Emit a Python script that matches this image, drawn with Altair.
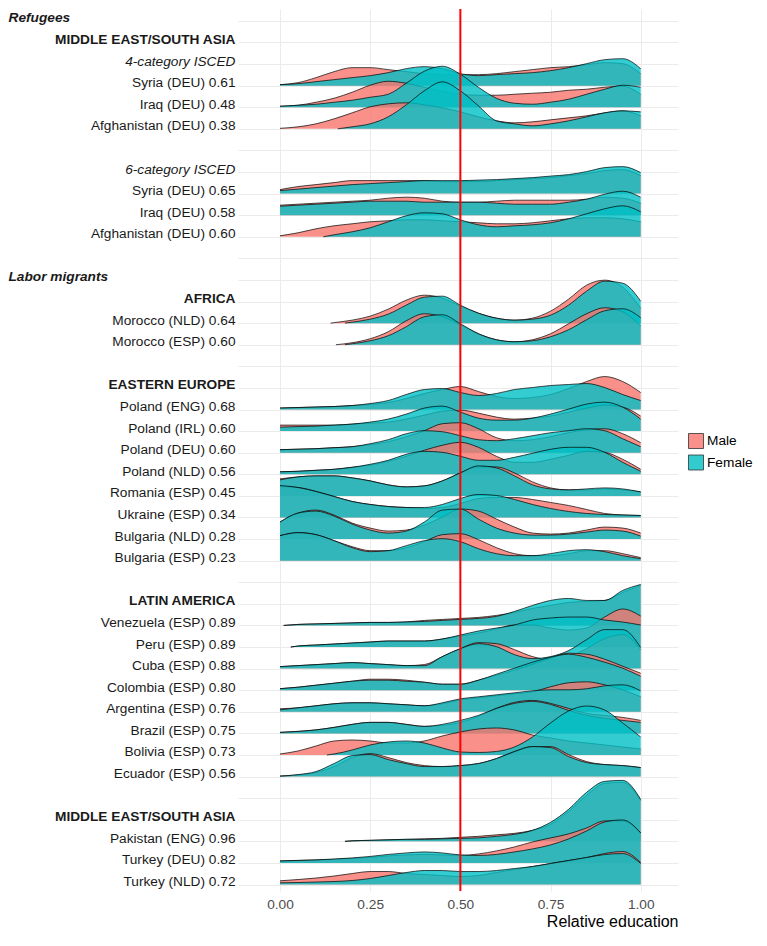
import altair as alt
import pandas as pd

# ---------------- row labels (top to bottom) ----------------
ROW_LABELS = [
    "Refugees", "MIDDLE EAST/SOUTH ASIA", "4-category ISCED",
    "Syria (DEU) 0.61", "Iraq (DEU) 0.48", "Afghanistan (DEU) 0.38", "",
    "6-category ISCED", "Syria (DEU) 0.65", "Iraq (DEU) 0.58", "Afghanistan (DEU) 0.60", "",
    "Labor migrants", "AFRICA", "Morocco (NLD) 0.64", "Morocco (ESP) 0.60", "",
    "EASTERN EUROPE", "Poland (ENG) 0.68", "Poland (IRL) 0.60", "Poland (DEU) 0.60",
    "Poland (NLD) 0.56", "Romania (ESP) 0.45", "Ukraine (ESP) 0.34", "Bulgaria (NLD) 0.28",
    "Bulgaria (ESP) 0.23", "",
    "LATIN AMERICA", "Venezuela (ESP) 0.89", "Peru (ESP) 0.89", "Cuba (ESP) 0.88",
    "Colombia (ESP) 0.80", "Argentina (ESP) 0.76", "Brazil (ESP) 0.75", "Bolivia (ESP) 0.73",
    "Ecuador (ESP) 0.56", "",
    "MIDDLE EAST/SOUTH ASIA", "Pakistan (ENG) 0.96", "Turkey (DEU) 0.82", "Turkey (NLD) 0.72",
]
BOLD_ROWS = [0, 1, 12, 13, 17, 27, 37]
ITALIC_ROWS = [0, 2, 7, 12]
GROUP_ROWS = [0, 12]

# relative education grid (0, 0.05, ..., 1.0)
X_GRID = [round(i * 0.05, 2) for i in range(21)]
X_TICKS = [0, 0.25, 0.5, 0.75, 1.0]
REF_LINE = 0.5
DENS_PER_ROW = 21.6  # density units that make one ridge row

# ---------------- densities ----------------
syria4_m = [1, 3, 8, 14, 18, 18, 16, 14, 12, 11, 11, 11, 12, 14, 16, 18, 19, 21, 23, 22, 12]
syria4_f = [1, 2, 4, 6, 8, 10, 13, 17, 19, 17, 12, 10, 11, 12, 13, 15, 18, 22, 26, 27, 17]
iraq4_m = [1, 2, 5, 9, 15, 22, 26, 24, 20, 16, 13, 12, 12, 13, 14, 15, 17, 18, 20, 21, 13]
iraq4_f = [1, 2, 3, 5, 7, 10, 13, 24, 36, 41, 33, 20, 9, 4, 3, 5, 8, 13, 18, 22, 20]
afgh4_m = [0.5, 2, 5, 10, 16, 22, 25, 26, 24, 21, 17, 12, 8, 6, 7, 9, 11, 13, 16, 18, 13]
afgh4_f = [None, None, None, None, 2, 5, 12, 24, 38, 47, 38, 23, 8, 5, 3, 5, 8, 12, 16, 18, 17]
syria6_m = [4, 7, 9, 11, 13, 13, 13, 13, 13, 12, 12, 12, 13, 14, 15, 16, 18, 20, 23, 24, 18]
syria6_f = [3, 4.5, 6, 7.5, 9, 10, 11, 12, 13, 13, 13, 13.5, 14, 15, 16, 17.5, 19, 22, 26, 27, 21]
iraq6_m = [10, 11, 12, 13, 14, 15, 17, 18, 17, 14, 13, 13, 14, 15, 15, 15, 15, 16, 18, 17, 12]
iraq6_f = [9, 10, 11, 12, 13, 14, 14, 14, 13, 13, 13, 13, 12, 11, 11, 11, 13, 16, 21, 24, 18]
afgh6_m = [1, 4, 8, 11, 13, 15, 16, 17, 17, 16, 15, 14, 13, 13, 14, 16, 18, 19, 19, 18, 15]
afgh6_f = [None, None, None, 2, 5, 9, 15, 21, 24, 23, 17, 12, 10, 11, 12, 14, 18, 23, 28, 31, 25]
morocco_nld_m = [None, None, None, 0.5, 3, 7, 14, 23, 28, 25, 17, 10, 5, 3, 5, 12, 24, 38, 43, 36, 15]
morocco_nld_f = [None, None, None, None, 1, 4, 9, 18, 26, 27, 18, 10, 5, 3, 4, 8, 18, 32, 42, 40, 22]
morocco_esp_m = [None, None, None, None, 2, 6, 13, 24, 31, 28, 20, 11, 5, 3, 5, 11, 21, 31, 37, 33, 19]
morocco_esp_f = [None, None, None, None, 1, 4, 9, 18, 28, 30, 21, 11, 5, 3, 4, 8, 15, 25, 34, 36, 27]
poland_eng_m = [1.5, 2, 2.5, 3, 4, 5, 7, 11, 16, 20, 23, 18, 13, 11, 12, 15, 21, 28, 33, 28, 17]
poland_eng_f = [1.5, 2, 2.5, 3, 4, 6, 9, 15, 20, 21, 17, 14, 16, 20, 22, 24, 25, 26, 22, 15, 9]
poland_irl_m = [6, 6, 6, 6, 7, 8, 9, 12, 16, 20, 21, 18, 14, 12, 13, 15, 19, 23, 26, 24, 15]
poland_irl_f = [4, 4.5, 5, 6, 7, 9, 12, 17, 23, 25, 19, 13, 11, 11, 13, 17, 22, 27, 29, 24, 12]
poland_deu_m = [3, 3.5, 4, 5, 6, 8, 11, 16, 22, 29, 30, 24, 15, 12, 13, 16, 20, 23, 24, 19, 10]
poland_deu_f = [3, 3.5, 4, 5, 6, 9, 13, 19, 22, 21, 17, 13, 12, 14, 17, 20, 22, 24, 22, 14, 6]
poland_nld_m = [2.5, 3, 4, 5, 7, 9, 13, 18, 24, 29, 32, 27, 18, 12, 12, 15, 19, 23, 22, 15, 5]
poland_nld_f = [2.5, 3, 4, 5, 7, 10, 14, 20, 23, 22, 18, 14, 14, 17, 21, 25, 27, 27, 22, 12, 3]
romania_m = [17, 19, 20, 20, 18, 15, 11, 9, 10, 15, 23, 29, 29, 23, 14, 8, 6, 6, 7, 6, 4]
romania_f = [16, 19, 20, 20, 18, 15, 11, 9, 10, 15, 23, 30, 28, 20, 11, 7, 6, 7, 8, 7, 4]
ukraine_m = [31, 30, 26, 21, 16, 13, 11, 10, 9, 10, 14, 19, 20, 20, 18, 15, 12, 8, 4, 2.5, 2]
ukraine_f = [32, 30, 26, 21, 16, 13, 11, 10, 10, 13, 19, 23, 22, 18, 13, 9, 6, 4, 3, 2.5, 2]
bulgaria_nld_m = [17, 26, 29, 24, 16, 11, 8, 9, 14, 22, 30, 28, 20, 12, 6, 5, 6, 9, 12, 11, 6]
bulgaria_nld_f = [17, 26, 28, 23, 15, 9, 6, 8, 17, 29, 30, 20, 11, 6, 4, 4, 5, 7, 9, 8, 3]
bulgaria_esp_m = [25, 28, 26, 20, 14, 10, 10, 13, 19, 26, 27, 21, 13, 7, 5, 5, 7, 10, 10, 7, 3]
bulgaria_esp_f = [25, 28, 26, 20, 13, 9, 10, 15, 20, 22, 19, 12, 7, 5, 5, 7, 10, 11, 9, 5, 2]
venezuela_m = [None, 1, 1.5, 2, 2.5, 3, 3, 3.5, 5, 6, 7, 8, 10, 13, 17, 20, 23, 24, 25, 33, 40]
venezuela_f = [None, 1, 1.5, 2, 2.5, 3, 3, 3.5, 4, 5, 6, 7, 9, 14, 20, 25, 27, 25, 25, 35, 41]
peru_m = [None, 1, 2, 3, 4, 5, 6, 6, 6, 8, 11, 14, 18, 22, 22, 19, 17, 19, 30, 38, 31]
peru_f = [None, 1, 2, 3, 4, 5, 6, 6, 6, 8, 12, 16, 19, 22, 27, 29, 30, 30, 27, 25, 22]
cuba_m = [2, 3, 4, 5, 6, 5, 4, 3, 4, 12, 20, 26, 25, 19, 12, 9, 12, 20, 30, 34, 19]
cuba_f = [2, 3, 4, 5, 6, 5, 4, 3, 3, 12, 20, 25, 22, 14, 10, 12, 18, 29, 39, 39, 21]
colombia_m = [1.5, 3, 5, 7, 9, 11, 11, 10, 8, 6, 6, 10, 15, 20, 26, 32, 37, 36, 31, 24, 17]
colombia_f = [1.5, 3, 5, 7, 9, 10, 10, 9, 8, 6, 6, 10, 16, 22, 28, 33, 36, 33, 28, 22, 14]
argentina_m = [3, 4, 6, 8, 9, 9, 8, 7, 6, 8, 12, 14, 16, 18, 20, 25, 29, 30, 27, 22, 15]
argentina_f = [2, 4, 6, 8, 9, 9, 8, 7, 6, 9, 13, 15, 17, 19, 21, 22, 22, 23, 26, 27, 21]
brazil_m = [1, 2, 3.5, 6, 9, 11, 11, 9, 7, 8, 11, 17, 25, 31, 33, 30, 25, 20, 18, 16, 13]
brazil_f = [1, 2, 3.5, 6, 9, 11, 11, 9, 7, 9, 13, 18, 25, 30, 32, 29, 23, 18, 15, 13, 11]
bolivia_m = [1, 4, 9, 14, 15, 14, 12, 12, 14, 19, 23, 26, 27, 25, 20, 17, 14, 12, 10, 8, 6]
bolivia_f = [None, None, None, 1, 5, 10, 13, 14, 12, 7, 3, 2.5, 3.5, 8, 18, 32, 44, 49, 45, 32, 18]
ecuador_m = [0.5, 1.5, 4, 10, 19, 23, 19, 14, 11, 10, 11, 13, 18, 25, 30, 30, 22, 15, 12, 11, 9]
ecuador_f = [0.5, 2, 5, 13, 21, 22, 17, 13, 10, 10, 11, 13, 18, 25, 30, 29, 20, 14, 12, 11, 9]
pakistan_m = [None, None, None, None, 0.5, 1, 1.5, 2, 2.5, 3, 4, 5, 6.5, 8, 11, 17, 30, 46, 58, 59, 41]
pakistan_f = [None, None, None, None, 0.5, 1, 1.5, 2, 2, 2.5, 3, 3.5, 5, 7, 11, 19, 32, 49, 60, 61, 42]
turkey_deu_m = [2, 2.5, 3, 3.5, 4.5, 5.5, 7, 8, 8.5, 8, 7.5, 9, 12, 16, 21, 25, 29, 35, 42, 42, 30]
turkey_deu_f = [2, 2.5, 3, 4, 5, 6.5, 8.5, 10, 11, 10, 8, 7.5, 8.5, 11, 14, 18, 24, 32, 41, 43, 30]
turkey_nld_m = [3.7, 5, 6.5, 8.5, 11, 13, 13, 11, 10, 9, 8, 9, 12, 15, 18, 21, 24, 27, 31, 33, 22]
turkey_nld_f = [1.7, 2, 2.5, 3, 4, 6, 9, 12, 14, 14, 13, 13, 14, 16, 18, 21, 24, 27, 30, 31, 21]

# (row, male, female, male start, female start)
SERIES = [
    (3, syria4_m, syria4_f, None, None),
    (4, iraq4_m, iraq4_f, None, None),
    (5, afgh4_m, afgh4_f, None, 0.16),
    (8, syria6_m, syria6_f, None, None),
    (9, iraq6_m, iraq6_f, None, None),
    (10, afgh6_m, afgh6_f, None, 0.12),
    (14, morocco_nld_m, morocco_nld_f, 0.14, 0.18),
    (15, morocco_esp_m, morocco_esp_f, 0.155, 0.18),
    (18, poland_eng_m, poland_eng_f, None, None),
    (19, poland_irl_m, poland_irl_f, None, None),
    (20, poland_deu_m, poland_deu_f, None, None),
    (21, poland_nld_m, poland_nld_f, None, None),
    (22, romania_m, romania_f, None, None),
    (23, ukraine_m, ukraine_f, None, None),
    (24, bulgaria_nld_m, bulgaria_nld_f, None, None),
    (25, bulgaria_esp_m, bulgaria_esp_f, None, None),
    (28, venezuela_m, venezuela_f, 0.01, 0.01),
    (29, peru_m, peru_f, 0.03, 0.03),
    (30, cuba_m, cuba_f, None, None),
    (31, colombia_m, colombia_f, None, None),
    (32, argentina_m, argentina_f, None, None),
    (33, brazil_m, brazil_f, None, None),
    (34, bolivia_m, bolivia_f, None, 0.13),
    (35, ecuador_m, ecuador_f, None, None),
    (38, pakistan_m, pakistan_f, 0.18, 0.18),
    (39, turkey_deu_m, turkey_deu_f, None, None),
    (40, turkey_nld_m, turkey_nld_f, None, None),
]

MALE_COLOR = "#F8766D"
FEMALE_COLOR = "#00BFC4"
FONT = "Liberation Sans"


def in_rows(rows):
    return "indexof([%s], datum.value) >= 0" % ",".join(str(r) for r in rows)


label_expr = "[" + ",".join("'" + s + "'" for s in ROW_LABELS) + "][datum.value]"

y_axis = alt.Axis(
    values=list(range(len(ROW_LABELS))),
    labelExpr=label_expr,
    grid=True, gridColor="#EBEBEB", gridWidth=1,
    domain=False, ticks=False, tickSize=0,
    labelFontSize=13.7, labelColor="#1A1A1A", labelLimit=0,
    labelFontWeight={"condition": {"test": in_rows(BOLD_ROWS), "value": "bold"}, "value": "normal"},
    labelFontStyle={"condition": {"test": in_rows(ITALIC_ROWS), "value": "italic"}, "value": "normal"},
    labelAlign={"condition": {"test": in_rows(GROUP_ROWS), "value": "left"}, "value": "right"},
    labelPadding={"condition": {"test": in_rows(GROUP_ROWS), "value": 230}, "value": 3},
    labelBaseline="alphabetic", labelOffset=1,
    labelOverlap=False, labelBound=False, labelFlush=False,
    title=None,
)
x_axis = alt.Axis(
    values=X_TICKS, format=".2f",
    grid=True, gridColor="#EBEBEB", gridWidth=1,
    domain=False, ticks=False, tickSize=0,
    labelFontSize=13.7, labelColor="#4D4D4D", labelPadding=6, labelFlush=False,
    title="Relative education", titleAnchor="end", titleFontSize=16,
    titleFontWeight="normal", titleColor="#000000", titlePadding=3,
)

x_enc = alt.X("x:Q", scale=alt.Scale(domain=[-0.1164, 1.1034], nice=False, zero=False), axis=x_axis)
y_enc = alt.Y("top:Q", scale=alt.Scale(domain=[-0.55, 40.3], reverse=True, nice=False, zero=False), axis=y_axis)
color_enc = alt.Color(
    "sex:N",
    scale=alt.Scale(domain=["Male", "Female"], range=[MALE_COLOR, FEMALE_COLOR]),
    legend=alt.Legend(
        title=None, orient="none", legendX=450, legendY=424,
        symbolType="square", symbolSize=225, symbolStrokeColor="#000000",
        symbolStrokeWidth=0.8, symbolOpacity=0.8,
        labelFontSize=13.7, labelColor="#000000", labelOffset=3, rowPadding=1.5,
    ),
)

layers = []
for row, male, female, m_start, f_start in SERIES:
    for sex, vals, start in (("Male", male, m_start), ("Female", female, f_start)):
        if len(vals) != len(X_GRID):
            raise ValueError("bad length for row %d %s" % (row, sex))
        xs, hs = [], []
        if start is not None:
            xs.append(start)
            hs.append(0.0)
        for xv, h in zip(X_GRID, vals):
            if h is None:
                continue
            xs.append(xv)
            hs.append(h)
        df = pd.DataFrame({"x": xs, "dens": hs})
        df["base"] = row
        df["top"] = row - df["dens"] / DENS_PER_ROW
        df["sex"] = sex
        base = alt.Chart(df)
        layers.append(
            base.mark_area(opacity=0.8, interpolate="monotone").encode(
                x=x_enc, y=y_enc, y2="base:Q", color=color_enc
            )
        )
        layers.append(
            base.mark_line(color="#000000", strokeWidth=0.7, interpolate="monotone").encode(
                x=x_enc, y=y_enc
            )
        )

rule = alt.Chart(pd.DataFrame({"x": [REF_LINE]})).mark_rule(color="#FF0000", strokeWidth=2).encode(x=x_enc)
layers.append(rule)

chart = (
    alt.layer(*layers)
    .properties(width=440, height=882, padding={"left": 0, "top": 0, "right": 0, "bottom": 0})
    .configure(font=FONT, background="#FFFFFF")
    .configure_view(stroke=None)
)

chart.save("out.html", embed_options={"renderer": "svg", "actions": False})
